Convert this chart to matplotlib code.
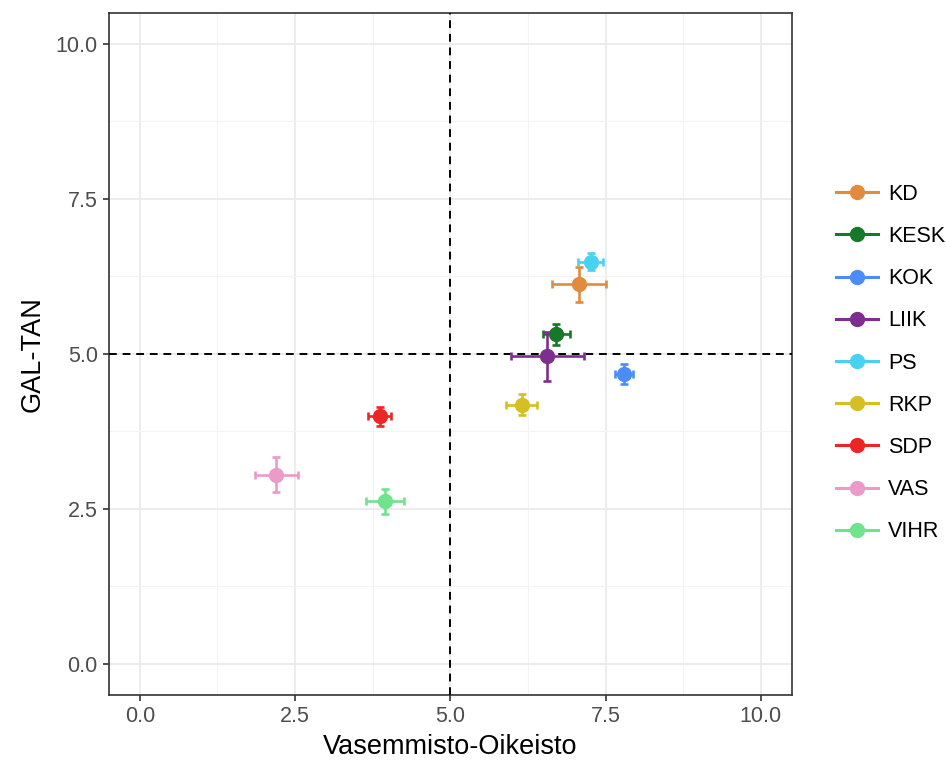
import matplotlib
matplotlib.use("Agg")
import matplotlib.pyplot as plt
from matplotlib.lines import Line2D
from matplotlib.ticker import MultipleLocator, FormatStrFormatter

plt.rcParams['font.family'] = ['Liberation Sans', 'DejaVu Sans']

parties = ['KD', 'KESK', 'KOK', 'LIIK', 'PS', 'RKP', 'SDP', 'VAS', 'VIHR']
x_vals = [7.07, 6.71, 7.79, 6.56, 7.26, 6.15, 3.86, 2.20, 3.95]
y_vals = [6.12, 5.32, 4.68, 4.96, 6.49, 4.18, 3.99, 3.05, 2.62]
x_err = [0.43, 0.21, 0.145, 0.59, 0.20, 0.25, 0.19, 0.35, 0.30]
y_err = [0.28, 0.17, 0.16, 0.40, 0.13, 0.17, 0.15, 0.28, 0.20]
colors = ['#E38B3C', '#18782A', '#4B8DF8', '#7E2E8E', '#47D3EF',
          '#D6BF22', '#EF2424', '#EC9BC9', '#70E38C']

fig = plt.figure(figsize=(9.46, 7.66), dpi=100)
ax = fig.add_axes([0.115, 0.093, 0.722, 0.89])

for i, p in enumerate(parties):
    ax.errorbar(x_vals[i], y_vals[i], xerr=x_err[i], yerr=y_err[i],
                fmt='o', color=colors[i], markersize=10, elinewidth=1.9,
                capsize=2.8, capthick=1.9, zorder=4)

ax.axvline(5, color='black', linestyle=(0, (4, 3)), linewidth=1.4, zorder=3)
ax.axhline(5, color='black', linestyle=(0, (4, 3)), linewidth=1.4, zorder=3)

ax.set_xlim(-0.5, 10.5)
ax.set_ylim(-0.5, 10.5)
ax.xaxis.set_major_locator(MultipleLocator(2.5))
ax.yaxis.set_major_locator(MultipleLocator(2.5))
ax.xaxis.set_minor_locator(MultipleLocator(1.25))
ax.yaxis.set_minor_locator(MultipleLocator(1.25))
ax.xaxis.set_major_formatter(FormatStrFormatter('%.1f'))
ax.yaxis.set_major_formatter(FormatStrFormatter('%.1f'))

ax.grid(which='major', color='#EBEBEB', linewidth=1.3, zorder=0)
ax.grid(which='minor', color='#F3F3F3', linewidth=0.8, zorder=0)
ax.set_axisbelow(True)
ax.tick_params(which='minor', length=0)
ax.tick_params(which='major', length=4, width=1.2, color='#333333',
               labelcolor='#4D4D4D', labelsize=15.5, pad=4)
for s in ax.spines.values():
    s.set_color('#333333')
    s.set_linewidth(1.2)

ax.set_xlabel('Vasemmisto-Oikeisto', fontsize=19.5, color='black', labelpad=5)
ax.set_ylabel('GAL-TAN', fontsize=19.5, color='black', labelpad=7)

handles = [Line2D([0], [0], color=c, marker='o', markersize=10, linewidth=2.2)
           for c in colors]
fig.legend(handles, parties, loc='center left', bbox_to_anchor=(0.884, 0.526),
           frameon=False, fontsize=15.5, handlelength=1.95, labelspacing=0.985,
           handletextpad=0.45, borderpad=0, borderaxespad=0)

fig.savefig('out.png', dpi=100, facecolor='white')
